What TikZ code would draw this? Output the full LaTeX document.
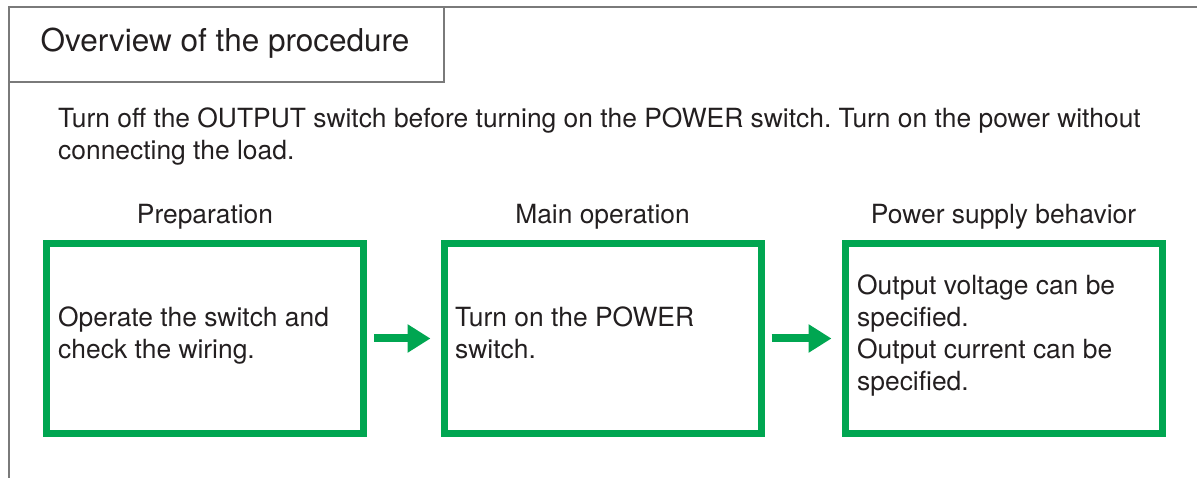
\documentclass[tikz,border=0pt]{standalone}
\usepackage{fontspec}
\setmainfont{TeX Gyre Heros}
\usetikzlibrary{arrows.meta}
\definecolor{boxgreen}{HTML}{00A651}
\definecolor{txt}{HTML}{231F20}
\definecolor{frame}{HTML}{7A7A7A}
\tikzset{
  stepbox/.style={draw=boxgreen, line width=7pt, minimum width=317pt, minimum height=190pt, inner sep=0pt},
  body/.style={text=txt, font=\fontsize{26.4}{32.5}\selectfont\frenchspacing, inner sep=0pt},
  title/.style={text=txt, font=\fontsize{31.5}{36}\selectfont, inner sep=0pt},
  flow/.style={draw=boxgreen, line width=8pt, -{Triangle[length=23pt, width=27pt]}}
}
\begin{document}
\begin{tikzpicture}[x=1pt, y=-1pt]
\useasboundingbox (0,0) rectangle (1197,478);
% frame
\draw[frame, line width=1.5pt] (9,478) -- (9,7) -- (1197,7);
\draw[frame, line width=1.5pt] (9,82) -- (444,82) -- (444,7);
\node[title, anchor=base] (ttl) at (225,52) {Overview of the procedure};
% intro text (base anchor = last line)
\node[body, anchor=base west, align=left] (intro) at (58,160) {Turn off the OUTPUT switch before turning on the POWER switch. Turn on the power without\\connecting the load.};
% column labels
\node[body, anchor=base] (l1) at (205,224) {Preparation};
\node[body, anchor=base] (l2) at (602.5,224) {Main operation};
\node[body, anchor=base] (l3) at (1003.5,224) {Power supply behavior};
% boxes
\node[stepbox] (b1) at (205,338.5) {};
\node[stepbox] (b2) at (602.5,338.5) {};
\node[stepbox] (b3) at (1003.5,338.5) {};
\node[body, anchor=base west, align=left] (t1) at (58,359) {Operate the switch and\\check the wiring.};
\node[body, anchor=base west, align=left] (t2) at (455,359) {Turn on the POWER\\switch.};
\node[body, anchor=base west, align=left, font=\fontsize{26.4}{31.7}\selectfont] (t3) at (857,390) {Output voltage can be\\specified.\\Output current can be\\specified.};
% arrows
\draw[flow] ([xshift=7pt]b1.east) -- ([xshift=-10pt]b2.west);
\draw[flow] ([xshift=7pt]b2.east) -- ([xshift=-10pt]b3.west);
\end{tikzpicture}
\end{document}
